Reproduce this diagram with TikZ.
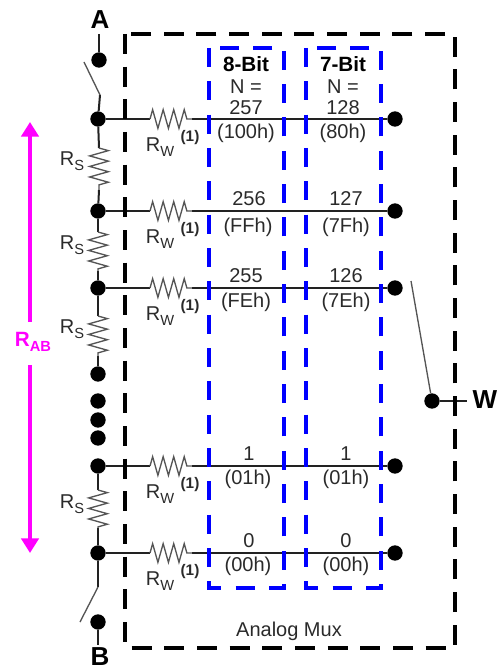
\documentclass[tikz,border=0pt]{standalone}
\usepackage{fontspec}
\setmainfont{Liberation Sans}
\usetikzlibrary{arrows.meta,decorations.pathmorphing,positioning}
\definecolor{ink}{HTML}{2A2A2A}
\definecolor{wiregray}{HTML}{222222}
\definecolor{resgray}{HTML}{555555}
\definecolor{rabpink}{HTML}{FF00FF}
\definecolor{bitblue}{HTML}{0000FF}
\newcommand{\lowtxt}[1]{\raisebox{-0.45ex}{\fontsize{11}{11}\selectfont #1}}
\tikzset{
	dot/.style={circle,fill=black,inner sep=0pt,minimum size=11.5pt},
	wire/.style={draw=wiregray,line width=1.5pt},
	swarm/.style={draw=resgray,line width=1pt},
	res/.style={draw=resgray,line width=1pt,decorate,decoration={zigzag,segment length=7.9pt,amplitude=7pt}},
	muxbox/.style={draw=black,line width=2.3pt,dash pattern=on 15pt off 9.5pt},
	bitbox/.style={draw=bitblue,line width=2.3pt,dash pattern=on 14.3pt off 10.7pt},
	lab/.style={text=ink,inner sep=0pt,font=\fontsize{15}{17}\selectfont},
	head/.style={text=black,inner sep=0pt,font=\fontsize{15.5}{17}\selectfont\bfseries},
	pin/.style={text=black,inner sep=0pt,font=\fontsize{19.5}{21}\selectfont\bfseries},
	note/.style={text=ink,inner sep=0pt,font=\fontsize{11.5}{13}\selectfont\bfseries},
	rabarrow/.style={draw=rabpink,line width=2.6pt,-{Triangle[length=11pt,width=13pt]}}
}
\begin{document}
\begin{tikzpicture}[x=0.75pt,y=-0.75pt,node distance=222.75pt]
\useasboundingbox (0,0) rectangle (497,670);

\node[pin] (pinA) at (100,20) {A};
\coordinate (pinAend) at (99,34);
\node[dot] (top) at (99,60) {};
\coordinate (swtop) at (100,95);
\coordinate (swtopfree) at (84,62);

\node[dot] (l1) at (98,119) {};
\node[dot] (l2) at (98,211) {};
\node[dot] (l3) at (98,288) {};
\node[dot] (m1) at (98,374) {};
\node[dot] (m2) at (98,401) {};
\node[dot] (m3) at (98,420) {};
\node[dot] (m4) at (98,438) {};
\node[dot] (l4) at (98,466) {};
\node[dot] (l5) at (98,553) {};
\coordinate (swbot) at (98,587);
\coordinate (swbotfree) at (80,622);
\node[dot] (bot) at (98,622) {};
\coordinate (pinBend) at (98,645);
\node[pin] (pinB) at (100,657) {B};

\node[dot] (r1) [right of=l1] {};
\node[dot] (r2) [right of=l2] {};
\node[dot] (r3) [right of=l3] {};
\node[dot] (r4) [right of=l4] {};
\node[dot] (r5) [right of=l5] {};

\coordinate (a1) at (150,119); \coordinate (b1) at (192,119);
\coordinate (a2) at (150,211); \coordinate (b2) at (192,211);
\coordinate (a3) at (150,288); \coordinate (b3) at (192,288);
\coordinate (a4) at (150,466); \coordinate (b4) at (192,466);
\coordinate (a5) at (150,553); \coordinate (b5) at (192,553);

\coordinate (s1a) at (99,148); \coordinate (s1b) at (99,190);
\coordinate (s2a) at (98,232); \coordinate (s2b) at (98,271);
\coordinate (s3a) at (98,316); \coordinate (s3b) at (98,356);
\coordinate (s4a) at (98,490); \coordinate (s4b) at (98,528);

\path[wire] (pinAend) -- (top);
\path[wire] (bot) -- (pinBend);
\path[wire] (l1) -- (swtop);
\path[swarm] (swtop) -- (swtopfree);
\path[wire] (l5) -- (swbot);
\path[swarm] (swbot) -- (swbotfree);

\path[wire] (l1) -- (s1a);
\path[wire] (s1b) -- (l2);
\path[wire] (l2) -- (s2a);
\path[wire] (s2b) -- (l3);
\path[wire] (l3) -- (s3a);
\path[wire] (s3b) -- (m1);
\path[wire] (l4) -- (s4a);
\path[wire] (s4b) -- (l5);
\path[res] (s1a) -- (s1b);
\path[res] (s2a) -- (s2b);
\path[res] (s3a) -- (s3b);
\path[res] (s4a) -- (s4b);

\path[wire] (l1) -- (a1) (b1) -- (r1);
\path[wire] (l2) -- (a2) (b2) -- (r2);
\path[wire] (l3) -- (a3) (b3) -- (r3);
\path[wire] (l4) -- (a4) (b4) -- (r4);
\path[wire] (l5) -- (a5) (b5) -- (r5);
\path[res] (a1) -- (b1);
\path[res] (a2) -- (b2);
\path[res] (a3) -- (b3);
\path[res] (a4) -- (b4);
\path[res] (a5) -- (b5);

\node[dot] (wiper) at (432,401) {};
\node[pin] (pinW) at (485,400) {W};
\coordinate (swW) at (411,281);
\coordinate (wend) at (467,401);
\path[swarm] (swW) -- (wiper);
\path[wire] (wiper) -- (wend);

\draw[muxbox] (125,34) rectangle (455,648);
\draw[bitbox] (209,48) rectangle (284,588);
\draw[bitbox] (306,48) rectangle (381,588);

\node[lab] (rs1) at (72,161) {R\lowtxt{S}};
\node[lab] (rs2) at (72,245) {R\lowtxt{S}};
\node[lab] (rs3) at (72,329) {R\lowtxt{S}};
\node[lab] (rs4) at (72,504) {R\lowtxt{S}};

\node[lab] (rw1) at (160,147) {R\lowtxt{W}}; \node[note] (n1) at (190,138) {(1)};
\node[lab] (rw2) at (160,239) {R\lowtxt{W}}; \node[note] (n2) at (190,230) {(1)};
\node[lab] (rw3) at (160,316) {R\lowtxt{W}}; \node[note] (n3) at (190,307) {(1)};
\node[lab] (rw4) at (160,494) {R\lowtxt{W}}; \node[note] (n4) at (190,485) {(1)};
\node[lab] (rw5) at (160,581) {R\lowtxt{W}}; \node[note] (n5) at (190,572) {(1)};

\node[head] (h8) at (246,64) {8-Bit};
\node[lab] (n8) at (246,87) {N =};
\node[lab] (c1a) at (246,108) {257};
\node[lab] (c1b) at (246,133) {(100h)};
\node[lab] (c2a) at (249,199) {256};
\node[lab] (c2b) at (248,227) {(FFh)};
\node[lab] (c3a) at (246,276) {255};
\node[lab] (c3b) at (246,302) {(FEh)};
\node[lab] (c4a) at (249,454) {1};
\node[lab] (c4b) at (248,479) {(01h)};
\node[lab] (c5a) at (249,541) {0};
\node[lab] (c5b) at (248,566) {(00h)};

\node[head] (h7) at (343,64) {7-Bit};
\node[lab] (n7) at (343,87) {N =};
\node[lab] (d1a) at (343,108) {128};
\node[lab] (d1b) at (343,133) {(80h)};
\node[lab] (d2a) at (346,199) {127};
\node[lab] (d2b) at (346,227) {(7Fh)};
\node[lab] (d3a) at (346,276) {126};
\node[lab] (d3b) at (346,302) {(7Eh)};
\node[lab] (d4a) at (346,454) {1};
\node[lab] (d4b) at (346,479) {(01h)};
\node[lab] (d5a) at (346,541) {0};
\node[lab] (d5b) at (346,566) {(00h)};

\node[lab] (mux) at (289,631) {Analog Mux};

\node[text=rabpink,inner sep=0pt,font=\fontsize{15.5}{17}\selectfont\bfseries] (rab) at (33,342) {R\lowtxt{AB}};
\coordinate (rabup) at (30,322);
\coordinate (rabdown) at (30,365);
\coordinate (rabtop) at (30,122);
\coordinate (rabbot) at (30,553);
\draw[rabarrow] (rabup) -- (rabtop);
\draw[rabarrow] (rabdown) -- (rabbot);
\end{tikzpicture}
\end{document}
